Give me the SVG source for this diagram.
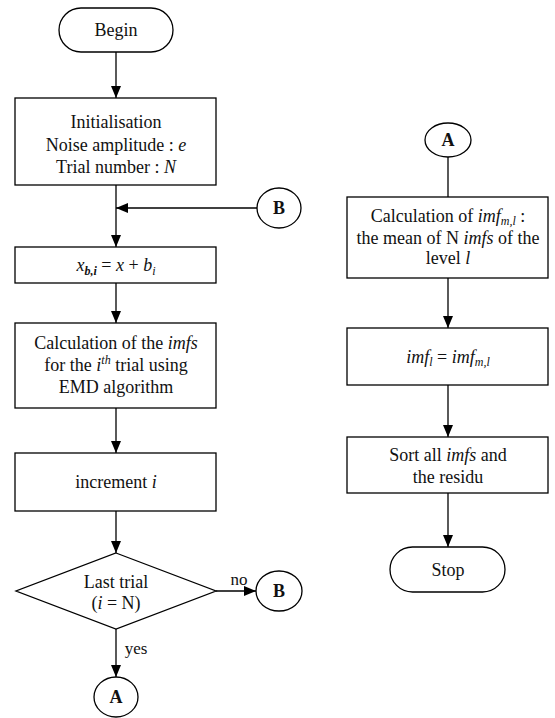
<svg xmlns="http://www.w3.org/2000/svg" width="555" height="718" viewBox="0 0 555 718">
<style>
.s{fill:#fff;stroke:#000;stroke-width:1.3}
.c{fill:none;stroke:#000;stroke-width:1.3}
text{font-family:"Liberation Serif","Times New Roman",serif;font-size:18px;fill:#111;text-anchor:middle}
.b{font-weight:bold}
.i{font-style:italic}
.sm{font-size:12px}
</style>
<defs>
<marker id="ar" markerUnits="userSpaceOnUse" markerWidth="12" markerHeight="10" refX="12" refY="5" orient="auto">
<path d="M0,0 L12,5 L0,10 z" fill="#000"/>
</marker>
</defs>
<rect width="555" height="718" fill="#fff"/>
<g id="connectors">
<line class="c" x1="116" y1="52" x2="116" y2="98" marker-end="url(#ar)"/>
<line class="c" x1="116" y1="185" x2="116" y2="247" marker-end="url(#ar)"/>
<line class="c" x1="258" y1="208" x2="116" y2="208" marker-end="url(#ar)"/>
<line class="c" x1="116" y1="283" x2="116" y2="323" marker-end="url(#ar)"/>
<line class="c" x1="116" y1="408" x2="116" y2="453" marker-end="url(#ar)"/>
<line class="c" x1="116" y1="511" x2="116" y2="553" marker-end="url(#ar)"/>
<line class="c" x1="216" y1="591" x2="256" y2="591" marker-end="url(#ar)"/>
<line class="c" x1="116" y1="629" x2="116" y2="677" marker-end="url(#ar)"/>
<line class="c" x1="448" y1="157" x2="448" y2="197"/>
<line class="c" x1="448" y1="278" x2="448" y2="328" marker-end="url(#ar)"/>
<line class="c" x1="448" y1="385" x2="448" y2="437" marker-end="url(#ar)"/>
<line class="c" x1="448" y1="493" x2="448" y2="547" marker-end="url(#ar)"/>
<text x="239" y="585" style="font-size:17px">no</text>
<text x="136" y="654" style="font-size:17px">yes</text>
</g>
<g id="begin">
<rect class="s" x="59" y="8" width="114" height="44" rx="22" ry="22"/>
<text x="116" y="36">Begin</text>
</g>
<g id="init">
<rect class="s" x="15" y="98" width="201" height="87"/>
<text x="116" y="128">Initialisation</text>
<text x="116" y="151">Noise amplitude : <tspan class="i">e</tspan></text>
<text x="116" y="173">Trial number : <tspan class="i">N</tspan></text>
</g>
<g id="connB1">
<ellipse class="s" cx="279" cy="208" rx="22" ry="20"/>
<text class="b" x="279" y="214">B</text>
</g>
<g id="noise">
<rect class="s" x="15" y="247" width="201" height="36"/>
<text x="116" y="271"><tspan class="i">x</tspan><tspan class="i b sm" dy="4">b,i</tspan><tspan dy="-4"> = </tspan><tspan class="i">x</tspan> + <tspan class="i">b</tspan><tspan class="i sm" dy="4">i</tspan></text>
</g>
<g id="calc">
<rect class="s" x="15" y="323" width="201" height="85"/>
<text x="116" y="349">Calculation of the <tspan class="i">imfs</tspan></text>
<text x="116" y="371">for the <tspan class="i">i</tspan><tspan class="i sm" dy="-7">th</tspan><tspan dy="7"> trial using</tspan></text>
<text x="116" y="393">EMD algorithm</text>
</g>
<g id="increment">
<rect class="s" x="15" y="453" width="201" height="58"/>
<text x="116" y="488">increment <tspan class="i">i</tspan></text>
</g>
<g id="decision">
<polygon class="s" points="116,553 216,591 116,629 16,591"/>
<text x="116" y="588">Last trial</text>
<text x="116" y="609">(<tspan class="i">i</tspan> = N)</text>
</g>
<g id="connB2">
<ellipse class="s" cx="279" cy="591" rx="23" ry="20"/>
<text class="b" x="279" y="597">B</text>
</g>
<g id="connA1">
<ellipse class="s" cx="116" cy="697" rx="22" ry="20"/>
<text class="b" x="116" y="703">A</text>
</g>
<g id="connA2">
<ellipse class="s" cx="448" cy="140" rx="23" ry="17"/>
<text class="b" x="448" y="146">A</text>
</g>
<g id="mean">
<rect class="s" x="347" y="197" width="201" height="81"/>
<text x="448" y="222">Calculation of <tspan class="i">imf</tspan><tspan class="i sm" dy="3">m,l</tspan><tspan dy="-3"> :</tspan></text>
<text x="448" y="244">the mean of N <tspan class="i">imfs</tspan> of the</text>
<text x="448" y="264">level <tspan class="i">l</tspan></text>
</g>
<g id="assign">
<rect class="s" x="347" y="328" width="201" height="57"/>
<text x="448" y="363"><tspan class="i">imf</tspan><tspan class="i sm" dy="3">l</tspan><tspan dy="-3"> = </tspan><tspan class="i">imf</tspan><tspan class="i sm" dy="3">m,l</tspan></text>
</g>
<g id="sort">
<rect class="s" x="347" y="437" width="201" height="56"/>
<text x="448" y="461">Sort all <tspan class="i">imfs</tspan> and</text>
<text x="448" y="483">the residu</text>
</g>
<g id="stop">
<rect class="s" x="390" y="547" width="115" height="45" rx="22.5" ry="22.5"/>
<text x="448" y="576">Stop</text>
</g>
</svg>
